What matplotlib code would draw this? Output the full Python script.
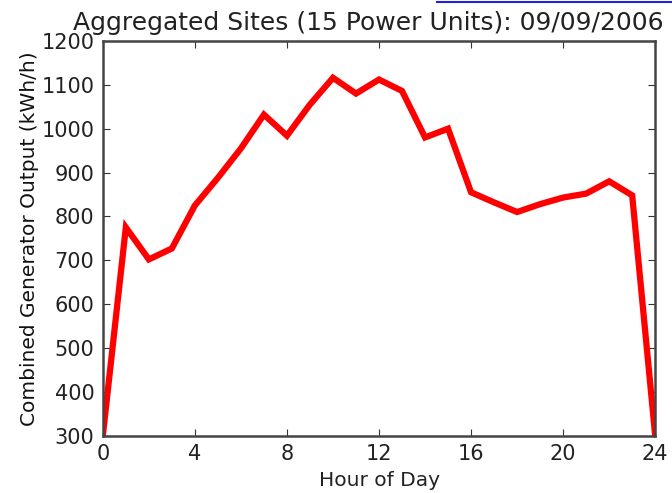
import matplotlib
matplotlib.use("Agg")
import matplotlib.pyplot as plt
from matplotlib.lines import Line2D

hours = list(range(25))
output = [300, 775, 702, 727, 825, 888, 955, 1032, 984, 1055, 1116, 1080, 1112,
          1086, 980, 1000, 855, 832, 810, 828, 843, 852, 880, 848, 300]

fig = plt.figure(figsize=(6.72, 4.93), dpi=100)
ax = fig.add_axes([0.153, 0.116, 0.822, 0.801])

ax.plot(hours, output, color='#ff0000', linewidth=4.5, solid_joinstyle='miter')

ax.set_xlim(0, 24)
ax.set_ylim(300, 1200)
ax.set_xticks(range(0, 25, 4))
ax.set_yticks(range(300, 1201, 100))
ax.tick_params(direction='in', top=True, right=True, labelsize=15, length=5,
               width=0.8, pad=6, colors='#333333', labelcolor='#222222')
for s in ax.spines.values():
    s.set_linewidth(1.8)
    s.set_color('#444444')

ax.set_xlabel('Hour of Day', fontsize=14.5, labelpad=5, color='#222222')
ax.set_ylabel('Combined Generator Output (kWh/h)', fontsize=14.5, labelpad=2,
              color='#111111')
ax.set_title('Aggregated Sites (15 Power Units): 09/09/2006', fontsize=18,
             x=0.48, pad=8, color='#222222')

# cut-off link underline at the very top
fig.add_artist(Line2D([0.65, 1.0], [0.995, 0.995], color='#2222dd', linewidth=1.5))

fig.savefig('out.png', dpi=100)
